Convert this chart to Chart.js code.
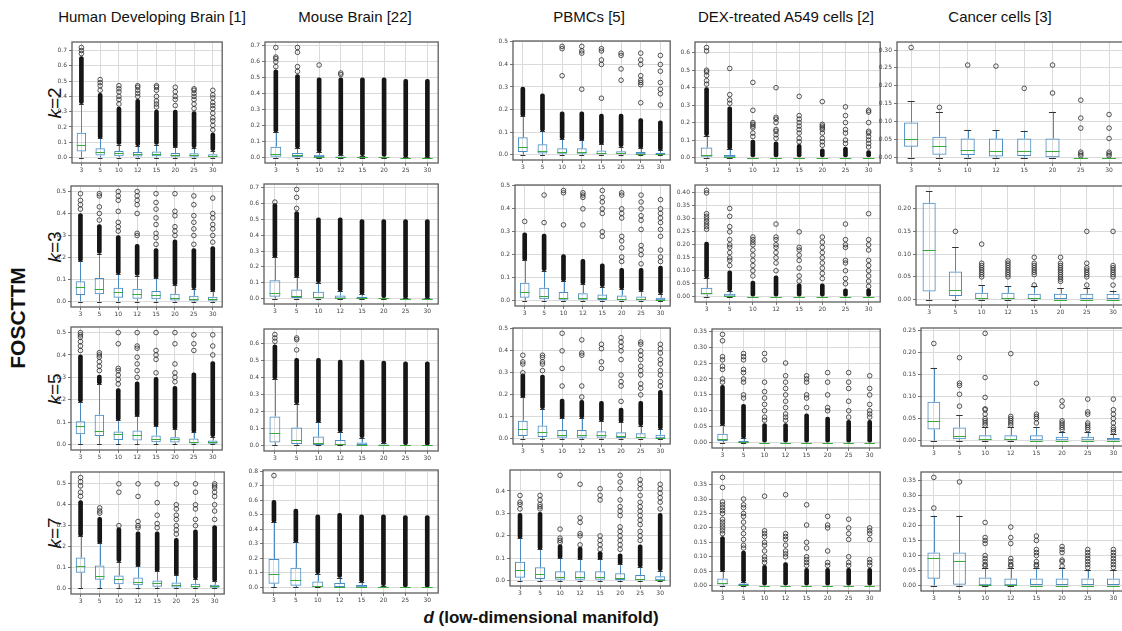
<!DOCTYPE html>
<html>
<head>
<meta charset="utf-8">
<script src="https://cdn.jsdelivr.net/npm/chart.js@4.4.1/dist/chart.umd.min.js"></script>
<style>
  html, body { margin: 0; padding: 0; background: #fff; }
  body { position: relative; width: 1122px; height: 631px; overflow: hidden; font-family: "Liberation Sans", Arial, sans-serif; color: #111; }
  canvas { position: absolute; }
  .title { position: absolute; top: 8px; font-size: 15px; transform: translateX(-50%); white-space: nowrap; }
  .rowlab { position: absolute; font-size: 19px; transform: translate(-50%, -50%) rotate(-90deg); white-space: nowrap; line-height: 1; }
  .ylab { position: absolute; left: 18px; top: 318px; font-size: 21px; font-weight: bold; transform: translate(-50%, -50%) rotate(-90deg); white-space: nowrap; }
  .xlab { position: absolute; left: 541px; top: 618px; font-size: 17px; font-weight: bold; transform: translate(-50%, -50%); white-space: nowrap; }
</style>
</head>
<body>
<div class="ylab">FOSCTTM</div>
<div class="xlab"><i>d</i> (low-dimensional manifold)</div>
<script>
const dims = ['3', '5', '10', '12', '15', '20', '25', '30'];
const sources = ['Human Developing Brain [1]', 'Mouse Brain [22]', 'PBMCs [5]', 'DEX-treated A549 cells [2]', 'Cancer cells [3]'];
const kValues = [2, 3, 5, 7];

// box stats per d: [lower whisker, q1, median, q3, upper whisker]
// *Dense: top of the packed column of fliers sitting on the upper whisker
// *Fliers: the separate outlier points
const human2Box = [[0,0.04,0.085,0.162,0.353],[0,0.013,0.037,0.06,0.125],[0,0.008,0.027,0.042,0.085],[0,0.007,0.022,0.036,0.077],[0,0.008,0.022,0.04,0.085],[0,0.005,0.018,0.03,0.068],[0,0.005,0.016,0.028,0.065],[0,0.003,0.01,0.022,0.045]];
const human2Dense = [0.66,0.42,0.33,0.38,0.31,0.31,0.30,0.16];
const human2Fliers = [[0.68,0.70,0.72],[0.44,0.47,0.49,0.51],[0.35,0.38,0.40,0.43,0.45,0.47],[0.40,0.42,0.44,0.46,0.47],[0.33,0.35,0.37,0.40,0.44,0.46,0.47],[0.34,0.38,0.40,0.43,0.46],[0.32,0.35,0.38,0.40,0.42,0.44,0.45],[0.18,0.21,0.24,0.26,0.29,0.32,0.34,0.36,0.39,0.41,0.44]];

const mouse2Box = [[0,0.005,0.023,0.068,0.16],[0,0.003,0.015,0.028,0.06],[0,0,0.005,0.017,0.035],[0,0,0.002,0.007,0.015],[0,0,0.001,0.005,0.012],[0,0,0.001,0.003,0.006],[0,0,0,0.001,0.002],[0,0,0,0,0.001]];
const mouse2Dense = [0.55,0.52,0.50,0.50,0.50,0.50,0.49,0.49];
const mouse2Fliers = [[0.57,0.60,0.62,0.63,0.69],[0.54,0.57,0.66,0.69],[0.58],[0.52,0.53],[],[],[],[]];

const pbmc2Box = [[0,0.012,0.034,0.077,0.17],[0,0.005,0.018,0.046,0.105],[0,0.004,0.012,0.028,0.07],[0,0.004,0.012,0.028,0.063],[0,0.002,0.006,0.018,0.045],[0,0.002,0.005,0.015,0.035],[0,0.001,0.003,0.012,0.028],[0,0.001,0.002,0.008,0.02]];
const pbmc2Dense = [0.30,0.27,0.19,0.19,0.18,0.18,0.16,0.15];
const pbmc2Fliers = [[],[],[0.35,0.47,0.48],[0.29,0.45,0.46,0.48],[0.25,0.40,0.42,0.46,0.47],[0.33,0.38,0.44,0.45],[0.23,0.31,0.32,0.33,0.35,0.40,0.42,0.45],[0.22,0.27,0.29,0.32,0.37,0.40,0.44]];

const dex2Box = [[0,0.005,0.017,0.057,0.125],[0,0.002,0.005,0.015,0.048],[0,0,0,0,0],[0,0,0,0,0],[0,0,0,0,0],[0,0,0,0,0],[0,0,0,0,0],[0,0,0,0,0]];
const dex2Dense = [0.40,0.29,0.10,0.09,0.075,0.05,0.06,0.04];
const dex2Fliers = [[0.42,0.44,0.47,0.49,0.50,0.61,0.63],[0.31,0.33,0.36,0.51],[0.12,0.14,0.17,0.18,0.19,0.20,0.27,0.43],[0.11,0.13,0.15,0.16,0.20,0.22,0.23,0.40],[0.09,0.11,0.14,0.16,0.18,0.20,0.22,0.24,0.35],[0.07,0.09,0.11,0.14,0.16,0.17,0.18,0.19,0.32],[0.08,0.10,0.14,0.16,0.20,0.24,0.29],[0.06,0.08,0.10,0.12,0.14,0.15,0.20,0.26,0.27]];

const cancer2Box = [[0,0.03,0.052,0.098,0.157],[0,0.008,0.033,0.058,0.128],[0,0.007,0.021,0.053,0.077],[0,0.003,0.017,0.053,0.077],[0,0.004,0.018,0.053,0.075],[0,0.001,0.018,0.053,0.128],[0,0,0,0,0],[0,0,0,0,0]];
const cancer2Fliers = [[0.307],[0.14],[0.258],[0.255],[0.193],[0.18,0.258],[0.005,0.01,0.015,0.082,0.11,0.16],[0.005,0.01,0.015,0.053,0.082,0.12]];

const human3Box = [[0,0.03,0.067,0.092,0.183],[0,0.033,0.058,0.107,0.218],[0,0.017,0.042,0.062,0.125],[0,0.012,0.035,0.058,0.118],[0,0.01,0.03,0.048,0.105],[0,0.004,0.018,0.035,0.075],[0,0.003,0.012,0.026,0.058],[0,0.003,0.011,0.022,0.047]];
const human3Dense = [0.40,0.35,0.30,0.26,0.24,0.28,0.24,0.25];
const human3Fliers = [[0.42,0.44,0.46,0.49],[0.37,0.40,0.43,0.48,0.49],[0.32,0.34,0.36,0.41,0.46,0.48,0.50],[0.30,0.31,0.40,0.44,0.46,0.48,0.50],[0.26,0.29,0.31,0.35,0.38,0.42,0.45,0.49],[0.30,0.32,0.34,0.39,0.41,0.49],[0.26,0.30,0.33,0.36,0.39,0.44,0.48],[0.27,0.30,0.33,0.35,0.38,0.40,0.47]];

const mouse3Box = [[0,0.012,0.038,0.115,0.26],[0,0.004,0.015,0.057,0.135],[0,0.002,0.008,0.043,0.10],[0,0.001,0.004,0.02,0.048],[0,0,0.003,0.012,0.028],[0,0,0.001,0.003,0.006],[0,0,0,0.001,0.002],[0,0,0,0.001,0.002]];
const mouse3Dense = [0.60,0.55,0.51,0.51,0.50,0.50,0.50,0.50];
const mouse3Fliers = [[0.61],[0.57,0.64,0.69],[],[],[],[],[],[]];

const pbmc3Box = [[0,0.012,0.038,0.077,0.175],[0,0.005,0.021,0.056,0.13],[0,0.003,0.013,0.037,0.085],[0,0.003,0.012,0.032,0.072],[0,0.002,0.01,0.026,0.06],[0,0.001,0.006,0.022,0.05],[0,0.001,0.005,0.018,0.042],[0,0.001,0.003,0.012,0.03]];
const pbmc3Dense = [0.295,0.29,0.20,0.18,0.16,0.14,0.14,0.15];
const pbmc3Fliers = [[0.345],[0.34,0.46],[0.33,0.47,0.48],[0.33,0.40,0.45,0.46,0.47],[0.28,0.30,0.38,0.40,0.43,0.45,0.48],[0.17,0.19,0.23,0.26,0.28,0.36,0.38,0.40,0.46,0.47],[0.16,0.20,0.22,0.24,0.31,0.35,0.37,0.40,0.43,0.46],[0.17,0.19,0.22,0.28,0.31,0.34,0.36,0.38,0.40,0.44]];

const dex3Box = [[0,0.008,0.015,0.034,0.072],[0,0.001,0.004,0.011,0.022],[0,0,0,0,0],[0,0,0,0,0],[0,0,0,0,0],[0,0,0,0,0],[0,0,0,0,0],[0,0,0,0,0]];
const dex3Dense = [0.21,0.10,0.06,0.08,0.05,0.05,0.03,0.03];
const dex3Fliers = [[0.26,0.27,0.28,0.29,0.30,0.31,0.32,0.40,0.41],[0.12,0.14,0.15,0.17,0.19,0.20,0.22,0.25,0.27,0.31,0.34],[0.08,0.10,0.12,0.14,0.16,0.18,0.20,0.21,0.22,0.23],[0.10,0.13,0.15,0.17,0.19,0.20,0.22,0.23,0.28],[0.06,0.08,0.11,0.14,0.16,0.18,0.19,0.25],[0.07,0.09,0.11,0.13,0.15,0.17,0.19,0.21,0.23],[0.05,0.07,0.10,0.13,0.14,0.19,0.20,0.22,0.28],[0.04,0.06,0.08,0.10,0.12,0.14,0.18,0.20,0.22,0.32]];

const cancer3Box = [[0,0.018,0.11,0.213,0.238],[0,0.008,0.021,0.062,0.115],[0,0.001,0.004,0.015,0.032],[0,0.001,0.004,0.015,0.029],[0,0.001,0.004,0.013,0.029],[0,0,0,0.013,0.025],[0,0,0,0.013,0.025],[0,0,0,0.013,0.02]];
const cancer3Fliers = [[],[0.15],[0.05,0.055,0.06,0.065,0.07,0.075,0.08,0.122],[0.05,0.055,0.06,0.065,0.07,0.075,0.08,0.085],[0.032,0.055,0.06,0.065,0.07,0.075,0.08,0.093],[0.04,0.045,0.05,0.055,0.06,0.065,0.07,0.075,0.08,0.093],[0.032,0.05,0.055,0.06,0.065,0.07,0.08,0.15],[0.032,0.05,0.055,0.06,0.065,0.07,0.075,0.15]];

const human5Box = [[0,0.045,0.083,0.103,0.19],[0,0.038,0.06,0.133,0.27],[0,0.02,0.045,0.058,0.108],[0,0.018,0.043,0.062,0.125],[0,0.01,0.026,0.04,0.082],[0,0.008,0.022,0.032,0.068],[0,0.004,0.013,0.026,0.055],[0,0.003,0.01,0.018,0.035]];
const human5Dense = [0.40,0.31,0.25,0.28,0.30,0.26,0.32,0.37];
const human5Fliers = [[0.42,0.44,0.46,0.48,0.49,0.50],[0.33,0.35,0.37,0.39,0.40,0.41],[0.27,0.29,0.31,0.33,0.34,0.45,0.50],[0.30,0.33,0.36,0.39,0.43,0.44,0.50],[0.32,0.38,0.40,0.42,0.50],[0.28,0.30,0.32,0.36,0.45,0.50],[0.42,0.45,0.49],[0.40,0.44,0.49]];

const mouse5Box = [[0,0.018,0.072,0.17,0.39],[0,0.008,0.03,0.105,0.245],[0,0.002,0.012,0.052,0.135],[0,0.001,0.006,0.032,0.08],[0,0,0.003,0.018,0.045],[0,0,0.001,0.006,0.015],[0,0,0,0.002,0.004],[0,0,0,0.001,0.002]];
const mouse5Dense = [0.59,0.51,0.51,0.50,0.50,0.495,0.49,0.49];
const mouse5Fliers = [[0.61,0.63,0.65],[0.56,0.62,0.63],[],[],[],[],[],[]];

const pbmc5Box = [[0,0.012,0.044,0.082,0.188],[0,0.008,0.03,0.06,0.137],[0,0.004,0.017,0.04,0.093],[0,0.005,0.018,0.04,0.095],[0,0.004,0.017,0.034,0.08],[0,0.003,0.012,0.03,0.075],[0,0.002,0.008,0.025,0.06],[0,0.002,0.005,0.018,0.045]];
const pbmc5Dense = [0.295,0.29,0.18,0.175,0.17,0.14,0.17,0.22];
const pbmc5Fliers = [[0.30,0.34,0.35,0.38],[0.31,0.34,0.35,0.37,0.38],[0.24,0.32,0.40,0.48],[0.19,0.24,0.38,0.39,0.45],[0.32,0.35,0.41,0.43],[0.17,0.24,0.26,0.29,0.36,0.40,0.42,0.44,0.46],[0.20,0.23,0.25,0.29,0.31,0.33,0.36,0.38,0.40,0.43,0.44],[0.24,0.26,0.29,0.31,0.34,0.36,0.39,0.41,0.43]];

const dex5Box = [[0,0.005,0.012,0.028,0.055],[0,0,0.001,0.005,0.014],[0,0,0,0,0],[0,0,0,0,0],[0,0,0,0,0],[0,0,0,0,0],[0,0,0,0,0],[0,0,0,0,0]];
const dex5Dense = [0.18,0.12,0.06,0.06,0.09,0.08,0.07,0.07];
const dex5Fliers = [[0.19,0.20,0.23,0.24,0.26,0.27,0.32,0.34],[0.14,0.15,0.19,0.20,0.22,0.23,0.26,0.27,0.28],[0.07,0.08,0.10,0.12,0.14,0.16,0.19,0.26,0.28],[0.07,0.08,0.09,0.11,0.13,0.15,0.17,0.19,0.21,0.25],[0.11,0.14,0.15,0.19,0.20,0.21],[0.10,0.11,0.15,0.19,0.22],[0.08,0.10,0.13,0.17,0.19,0.22],[0.08,0.09,0.10,0.12,0.15,0.17,0.21]];

const cancer5Box = [[0,0.025,0.045,0.088,0.165],[0,0.003,0.011,0.03,0.058],[0,0.001,0.003,0.012,0.03],[0,0.001,0.003,0.012,0.03],[0,0,0,0.012,0.03],[0,0,0,0.009,0.02],[0,0,0,0.009,0.02],[0,0,0,0.006,0.015]];
const cancer5Fliers = [[0.22],[0.078,0.105,0.125,0.13,0.188],[0.035,0.04,0.045,0.05,0.06,0.07,0.072,0.098,0.143,0.243],[0.035,0.04,0.045,0.05,0.055,0.197],[0.04,0.05,0.055,0.06,0.13],[0.025,0.03,0.035,0.04,0.045,0.078,0.09],[0.025,0.03,0.035,0.04,0.06,0.065,0.094],[0.02,0.025,0.03,0.04,0.05,0.06,0.07,0.094]];

const human7Box = [[0,0.075,0.105,0.148,0.25],[0,0.042,0.058,0.11,0.215],[0,0.02,0.045,0.062,0.128],[0,0.015,0.033,0.052,0.105],[0,0.008,0.025,0.038,0.082],[0,0.005,0.018,0.028,0.062],[0,0.004,0.013,0.022,0.045],[0,0.003,0.01,0.018,0.035]];
const human7Dense = [0.42,0.34,0.29,0.27,0.27,0.24,0.28,0.30];
const human7Fliers = [[0.44,0.46,0.49,0.51,0.53],[0.36,0.37,0.385],[0.30,0.46,0.50],[0.29,0.30,0.32,0.44,0.50],[0.29,0.31,0.35,0.41,0.50],[0.26,0.28,0.30,0.33,0.35,0.38,0.40,0.50],[0.30,0.33,0.38,0.40,0.46,0.50],[0.33,0.37,0.40,0.44,0.46,0.48,0.49,0.50]];

const mouse7Box = [[0,0.025,0.092,0.195,0.45],[0,0.012,0.05,0.135,0.31],[0,0.003,0.008,0.04,0.095],[0,0.002,0.005,0.03,0.068],[0,0.001,0.003,0.016,0.038],[0,0,0.001,0.005,0.012],[0,0,0,0.001,0.003],[0,0,0,0.001,0.002]];
const mouse7Dense = [0.60,0.54,0.50,0.51,0.50,0.50,0.495,0.495];
const mouse7Fliers = [[0.77],[],[],[],[],[],[],[]];

const pbmc7Box = [[0,0.013,0.046,0.085,0.19],[0,0.008,0.03,0.06,0.14],[0,0.004,0.017,0.042,0.10],[0,0.004,0.017,0.042,0.095],[0,0.004,0.017,0.042,0.095],[0,0.003,0.012,0.033,0.073],[0,0.002,0.008,0.025,0.062],[0,0.002,0.005,0.02,0.045]];
const pbmc7Dense = [0.30,0.305,0.16,0.15,0.13,0.12,0.16,0.30];
const pbmc7Fliers = [[0.32,0.34,0.35,0.38],[0.32,0.33,0.34,0.36,0.38],[0.17,0.18,0.19,0.23,0.47],[0.16,0.20,0.21,0.26,0.28,0.43],[0.14,0.16,0.18,0.20,0.36,0.38,0.41],[0.14,0.16,0.18,0.20,0.22,0.24,0.29,0.31,0.33,0.36,0.41,0.44,0.47],[0.18,0.20,0.22,0.25,0.27,0.29,0.31,0.33,0.35,0.38,0.41,0.43,0.45],[0.32,0.35,0.37,0.39,0.41,0.43]];

const dex7Box = [[0,0.004,0.01,0.025,0.05],[0,0,0.002,0.007,0.013],[0,0,0,0,0],[0,0,0,0,0],[0,0,0,0,0],[0,0,0,0,0],[0,0,0,0,0],[0,0,0,0,0]];
const dex7Dense = [0.17,0.12,0.07,0.08,0.06,0.06,0.06,0.06];
const dex7Fliers = [[0.18,0.19,0.20,0.21,0.22,0.23,0.25,0.26,0.27,0.28,0.29,0.34,0.375],[0.13,0.14,0.16,0.18,0.20,0.22,0.24,0.25,0.27,0.28,0.30],[0.08,0.09,0.10,0.12,0.14,0.15,0.17,0.18,0.19,0.31],[0.10,0.11,0.12,0.14,0.16,0.17,0.18,0.315],[0.07,0.08,0.09,0.10,0.13,0.15,0.21,0.28],[0.07,0.08,0.12,0.20,0.21,0.24],[0.07,0.08,0.10,0.16,0.18,0.20,0.23],[0.07,0.08,0.09,0.16,0.18,0.19,0.20]];

const cancer7Box = [[0,0.023,0.093,0.11,0.233],[0,0.003,0.083,0.11,0.233],[0,0.001,0.003,0.027,0.06],[0,0.001,0.003,0.024,0.06],[0,0,0,0.024,0.06],[0,0,0,0.024,0.06],[0,0,0,0.024,0.053],[0,0,0,0.024,0.053]];
const cancer7Fliers = [[0.258,0.36],[0.345],[0.065,0.07,0.08,0.09,0.10,0.14,0.15,0.16,0.21],[0.065,0.07,0.08,0.09,0.14,0.16,0.195],[0.065,0.07,0.08,0.10,0.11,0.12,0.15,0.165],[0.065,0.08,0.085,0.11,0.12,0.13],[0.06,0.07,0.08,0.09,0.10,0.11,0.12],[0.06,0.07,0.08,0.09,0.10,0.11,0.12]];

// y tick step per panel (rows = k, columns = data set)
const yStep = [
  [0.1, 0.1, 0.1, 0.1, 0.05],
  [0.1, 0.1, 0.1, 0.05, 0.05],
  [0.1, 0.1, 0.1, 0.05, 0.05],
  [0.1, 0.1, 0.1, 0.05, 0.05]
];

const panels = [
  [[human2Box, human2Dense, human2Fliers], [mouse2Box, mouse2Dense, mouse2Fliers], [pbmc2Box, pbmc2Dense, pbmc2Fliers], [dex2Box, dex2Dense, dex2Fliers], [cancer2Box, null, cancer2Fliers]],
  [[human3Box, human3Dense, human3Fliers], [mouse3Box, mouse3Dense, mouse3Fliers], [pbmc3Box, pbmc3Dense, pbmc3Fliers], [dex3Box, dex3Dense, dex3Fliers], [cancer3Box, null, cancer3Fliers]],
  [[human5Box, human5Dense, human5Fliers], [mouse5Box, mouse5Dense, mouse5Fliers], [pbmc5Box, pbmc5Dense, pbmc5Fliers], [dex5Box, dex5Dense, dex5Fliers], [cancer5Box, null, cancer5Fliers]],
  [[human7Box, human7Dense, human7Fliers], [mouse7Box, mouse7Dense, mouse7Fliers], [pbmc7Box, pbmc7Dense, pbmc7Fliers], [dex7Box, dex7Dense, dex7Fliers], [cancer7Box, null, cancer7Fliers]]
];

// plot frames on the page: [left, top, right, bottom]
const frames = [
  [[72, 42, 224, 163], [265, 42, 440, 163], [513, 41, 672, 160], [695, 42, 882, 163], [897, 42, 1125, 163]],
  [[71, 186, 224, 307], [264, 184, 440, 304], [515, 185, 672, 306], [695, 185, 882, 302], [916, 186, 1128, 305]],
  [[71, 327, 224, 450], [264, 329, 440, 451], [513, 328, 672, 444], [712, 329, 882, 448], [921, 328, 1128, 446]],
  [[71, 472, 226, 594], [263, 470, 440, 593], [510, 470, 672, 586], [712, 472, 882, 591], [921, 472, 1128, 591]]
];
const titleX = [152, 355, 589, 786, 1000];

const BOX_BLUE = '#4a8cc2';
const MEDIAN_GREEN = '#3aab3a';
const GRID = '#dadada';

Chart.defaults.font.family = 'DejaVu Sans';

sources.forEach((name, c) => {
  const d = document.createElement('div');
  d.className = 'title';
  d.style.left = titleX[c] + 'px';
  d.textContent = name;
  document.body.appendChild(d);
});

kValues.forEach((k, r) => {
  const f = frames[r][0];
  const d = document.createElement('div');
  d.className = 'rowlab';
  d.style.left = '54px';
  d.style.top = ((f[1] + f[3]) / 2) + 'px';
  d.innerHTML = '<i>k</i>=' + k;
  document.body.appendChild(d);
});

function boxParts(stats) {
  return {
    id: 'boxParts',
    beforeDatasetsDraw(chart) {
      const ctx = chart.ctx, x = chart.scales.x, y = chart.scales.y;
      ctx.save();
      ctx.strokeStyle = BOX_BLUE;
      ctx.lineWidth = 1;
      stats.forEach((s, i) => {
        const px = Math.round(x.getPixelForValue(i)) + 0.5;
        ctx.beginPath();
        ctx.moveTo(px, y.getPixelForValue(s[3]));
        ctx.lineTo(px, y.getPixelForValue(s[4]));
        ctx.moveTo(px, y.getPixelForValue(s[1]));
        ctx.lineTo(px, y.getPixelForValue(s[0]));
        ctx.stroke();
      });
      ctx.restore();
    },
    afterDatasetsDraw(chart) {
      const ctx = chart.ctx, x = chart.scales.x, y = chart.scales.y;
      const cw = x.getPixelForValue(1) - x.getPixelForValue(0);
      ctx.save();
      ctx.lineWidth = 1;
      stats.forEach((s, i) => {
        const px = x.getPixelForValue(i);
        // caps
        ctx.strokeStyle = '#333';
        ctx.beginPath();
        [s[0], s[4]].forEach(v => {
          const py = Math.round(y.getPixelForValue(v)) + 0.5;
          ctx.moveTo(px - cw * 0.125, py);
          ctx.lineTo(px + cw * 0.125, py);
        });
        ctx.stroke();
        // median
        ctx.strokeStyle = MEDIAN_GREEN;
        const my = Math.round(y.getPixelForValue(s[2])) + 0.5;
        ctx.beginPath();
        ctx.moveTo(px - cw * 0.25, my);
        ctx.lineTo(px + cw * 0.25, my);
        ctx.stroke();
      });
      ctx.restore();
    },
    afterDraw(chart) {
      const a = chart.chartArea, ctx = chart.ctx;
      ctx.save();
      ctx.strokeStyle = '#5e5e5e';
      ctx.lineWidth = 1.3;
      ctx.strokeRect(a.left, a.top, a.right - a.left, a.bottom - a.top);
      ctx.restore();
    }
  };
}

function makePanel(r, c) {
  const [stats, dense, fliers] = panels[r][c];
  const [l, t, rr, b] = frames[r][c];
  const padL = 28, padR = 3, padT = 6, padB = 14;
  const canvas = document.createElement('canvas');
  canvas.width = rr - l + padL + padR;
  canvas.height = b - t + padT + padB;
  canvas.style.left = (l - padL) + 'px';
  canvas.style.top = (t - padT) + 'px';
  document.body.appendChild(canvas);

  // autoscale with 5% margins on the full data range
  let lo = Infinity, hi = -Infinity;
  stats.forEach(s => { lo = Math.min(lo, s[0]); hi = Math.max(hi, s[4]); });
  if (dense) dense.forEach(v => { hi = Math.max(hi, v); });
  fliers.forEach(f => f.forEach(v => { lo = Math.min(lo, v); hi = Math.max(hi, v); }));
  const margin = (hi - lo) * 0.05;
  const yMin = lo - margin, yMax = hi + margin;
  const step = yStep[r][c];
  const dec = step < 0.1 ? 2 : 1;
  const tickVals = [];
  for (let v = 0; v <= yMax + 1e-9; v = +(v + step).toFixed(4)) tickVals.push(v);

  const flierPts = [];
  fliers.forEach((f, i) => f.forEach(v => flierPts.push({ x: dims[i], y: v })));

  const datasets = [
    {
      type: 'line',
      data: flierPts,
      showLine: false,
      pointRadius: 2.3,
      pointBorderWidth: 0.8,
      pointBorderColor: '#2a2a2a',
      pointBackgroundColor: 'rgba(0,0,0,0)',
      order: 0
    },
    {
      data: stats.map(s => [s[1], s[3]]),
      backgroundColor: 'rgba(0,0,0,0)',
      borderColor: BOX_BLUE,
      borderWidth: 1,
      borderSkipped: false,
      barPercentage: 0.5,
      categoryPercentage: 1,
      order: 1
    }
  ];
  if (dense) {
    datasets.push({
      data: dense.map((top, i) => [stats[i][4], top]),
      backgroundColor: '#161616',
      borderWidth: 0,
      barThickness: 4,
      borderRadius: 2,
      borderSkipped: false,
      order: 2
    });
  }

  new Chart(canvas, {
    type: 'bar',
    data: { labels: dims, datasets: datasets },
    options: {
      responsive: false,
      animation: false,
      events: [],
      datasets: { bar: { grouped: false } },
      layout: { padding: { top: padT, right: padR, left: 0, bottom: 0 } },
      plugins: { legend: { display: false }, tooltip: { enabled: false } },
      scales: {
        x: {
          type: 'category',
          offset: true,
          border: { display: false },
          grid: { offset: false, color: GRID, tickLength: 3, tickColor: '#777' },
          ticks: { font: { size: 6 }, color: '#444', padding: 1, maxRotation: 0, autoSkip: false },
          afterFit(s) { s.height = padB; }
        },
        y: {
          min: yMin,
          max: yMax,
          border: { display: false },
          grid: { color: GRID, tickLength: 3, tickColor: '#777' },
          ticks: { font: { size: 6 }, color: '#444', padding: 2, callback: v => v.toFixed(dec) },
          afterBuildTicks(s) { s.ticks = tickVals.map(v => ({ value: v })); },
          afterFit(s) { s.width = padL; }
        }
      }
    },
    plugins: [boxParts(stats)]
  });
}

for (let r = 0; r < kValues.length; r++) {
  for (let c = 0; c < sources.length; c++) makePanel(r, c);
}
</script>
</body>
</html>
